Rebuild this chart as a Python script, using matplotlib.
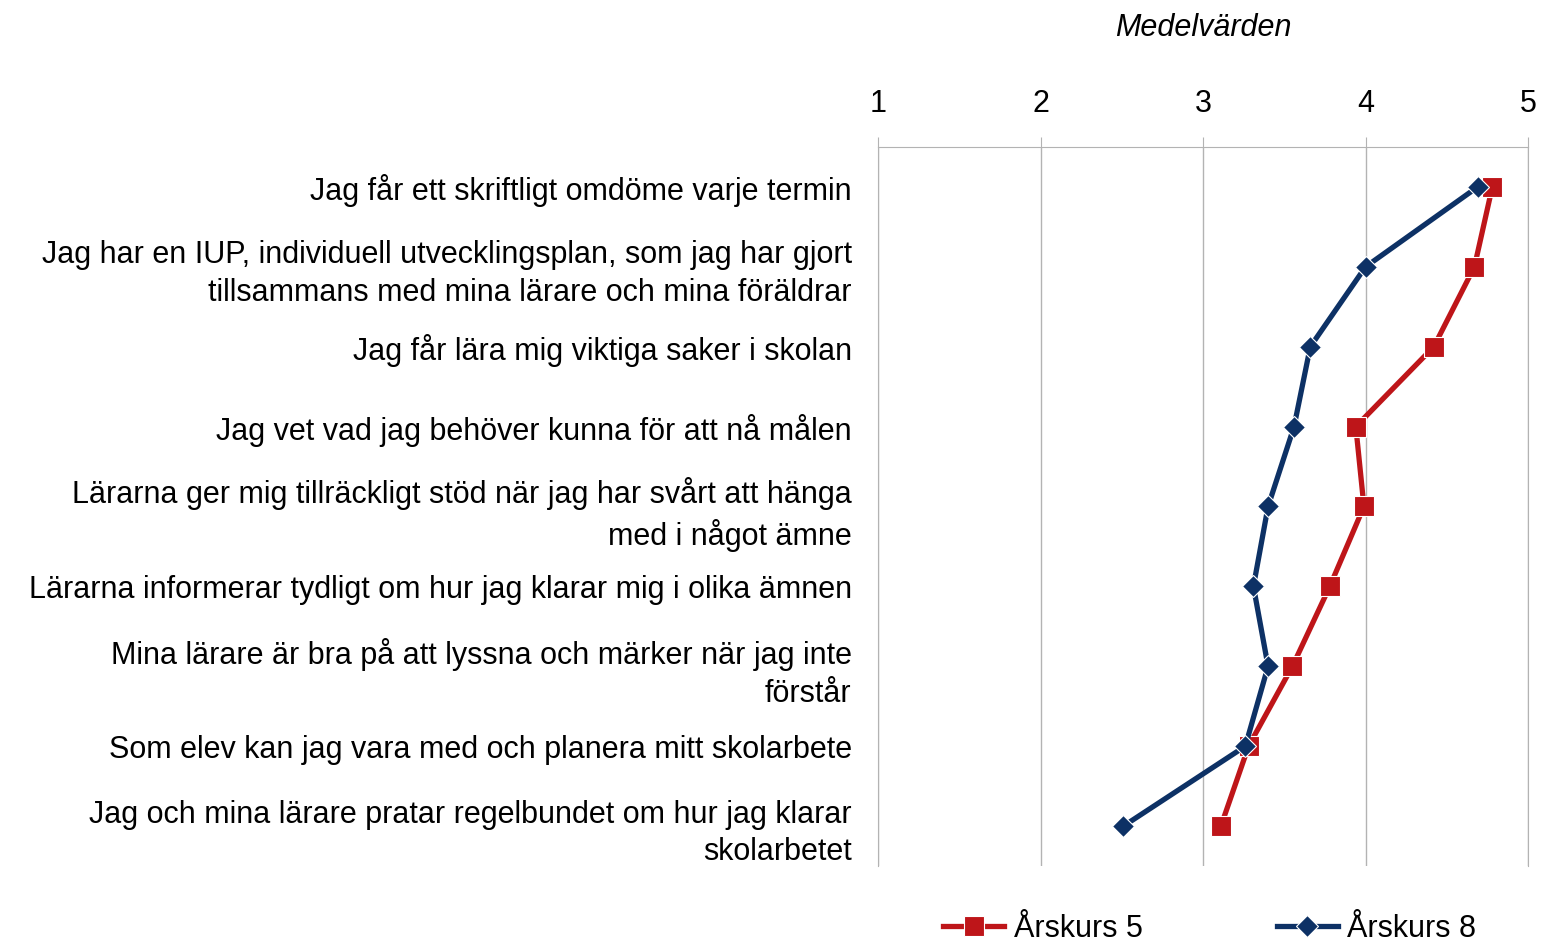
import matplotlib.pyplot as plt

plt.rcParams['font.family'] = ['Liberation Sans', 'DejaVu Sans']

# data
questions = [
    'Jag får ett skriftligt omdöme varje termin',
    'Jag har en IUP, individuell utvecklingsplan, som jag har gjort\ntillsammans med mina lärare och mina föräldrar',
    'Jag får lära mig viktiga saker i skolan',
    'Jag vet vad jag behöver kunna för att nå målen',
    'Lärarna ger mig tillräckligt stöd när jag har svårt att hänga\nmed i något ämne',
    'Lärarna informerar tydligt om hur jag klarar mig i olika ämnen',
    'Mina lärare är bra på att lyssna och märker när jag inte\nförstår',
    'Som elev kan jag vara med och planera mitt skolarbete',
    'Jag och mina lärare pratar regelbundet om hur jag klarar\nskolarbetet',
]
arskurs5 = [4.78, 4.67, 4.42, 3.94, 3.99, 3.78, 3.55, 3.28, 3.11]
arskurs8 = [4.69, 4.00, 3.66, 3.56, 3.40, 3.31, 3.40, 3.26, 2.51]
xticks = [1, 2, 3, 4, 5]

red = '#be1519'
blue = '#0d3165'
grid = '#b3b3b3'
fs = 22

fig = plt.figure(figsize=(15.41, 9.5), dpi=100)
ax = fig.add_axes([0.5698, 0.0884, 0.4218, 0.7569])

pos = list(range(len(questions)))
ax.plot(arskurs5, pos, color=red, lw=3.8, marker='s', ms=14,
        mec='white', mew=0.8, label='Årskurs 5', zorder=3)
ax.plot(arskurs8, pos, color=blue, lw=3.8, marker='D', ms=11.5,
        mec='white', mew=0.8, label='Årskurs 8', zorder=4)

ax.set_xlim(1, 5)
ax.set_ylim(len(questions) - 0.5, -0.5)
ax.set_xticks(xticks)
ax.set_yticks(pos)
ax.set_yticklabels(questions, fontsize=fs, linespacing=1.33)
ax.xaxis.set_ticks_position('top')
ax.tick_params(axis='x', top=True, bottom=False, labeltop=True,
               labelbottom=False, length=7, color=grid, labelsize=fs, pad=13)
ax.tick_params(axis='y', length=0, pad=19)
ax.grid(axis='x', color=grid, lw=1)
ax.set_axisbelow(True)
for s in ['left', 'right', 'top']:
    ax.spines[s].set_color(grid)
ax.spines['bottom'].set_visible(False)

ax.set_title('Medelvärden', fontsize=fs, style='italic', pad=80)

fig.legend(loc='center', bbox_to_anchor=(0.785, 0.022), ncol=2,
           frameon=False, fontsize=fs, handlelength=2.0,
           columnspacing=4.4, handletextpad=0.3)

fig.savefig('out.png', dpi=100)
